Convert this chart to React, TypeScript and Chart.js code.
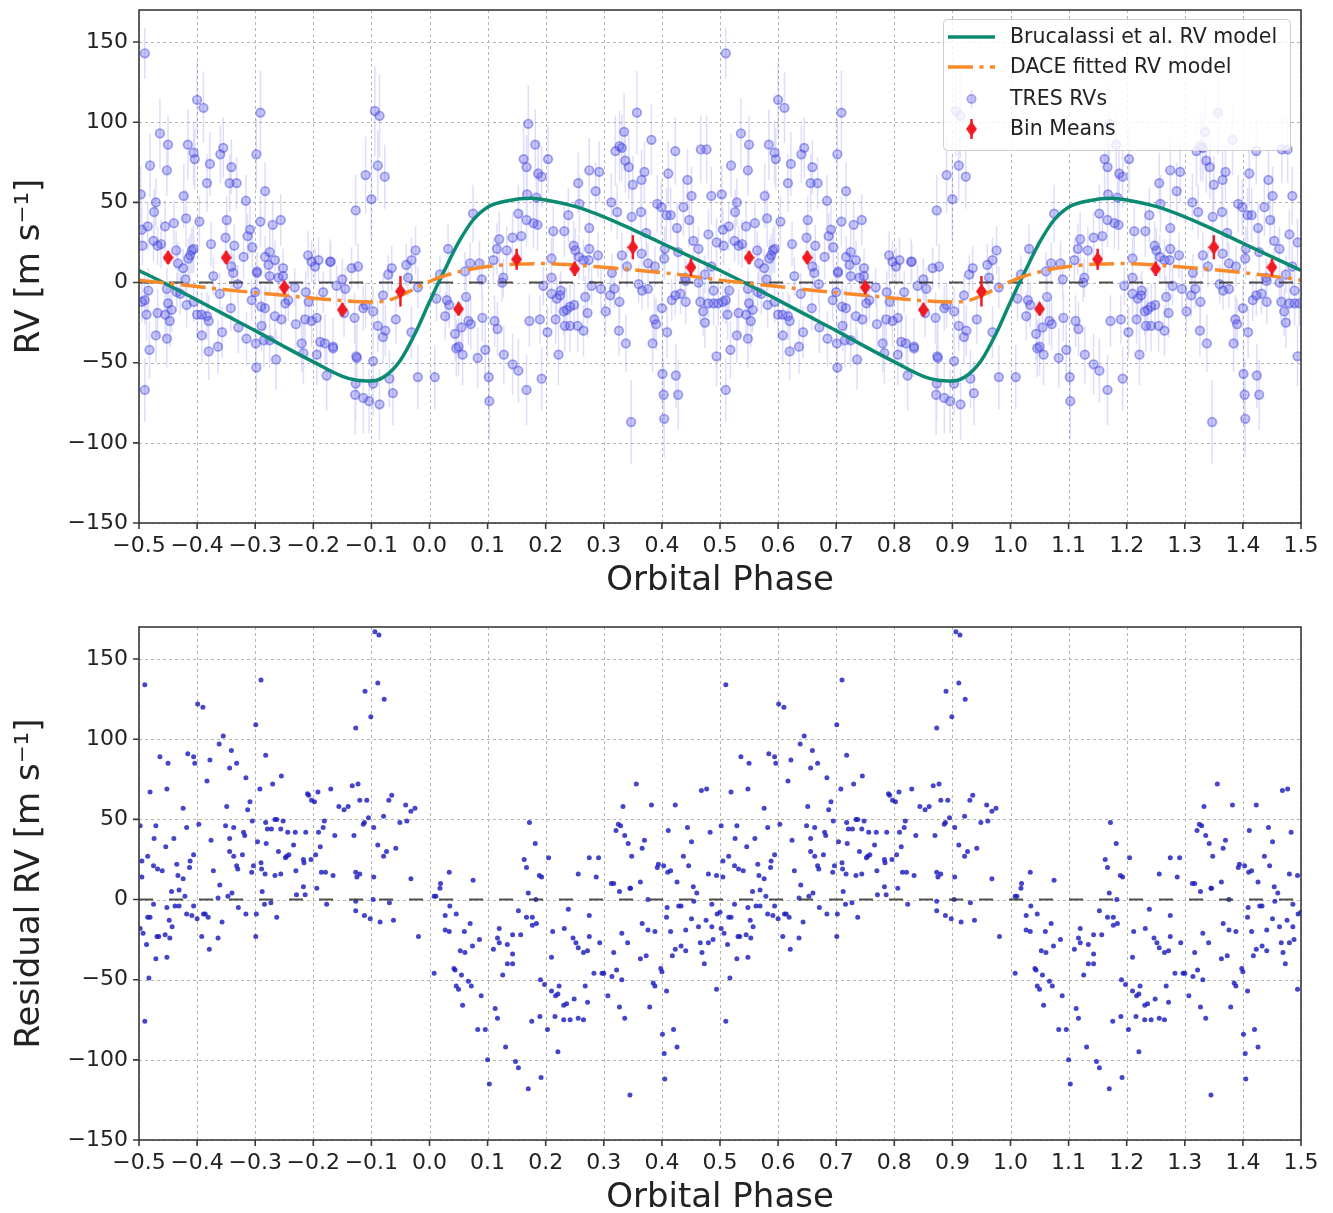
import React, { useEffect, useRef } from "react";
import { Chart, registerables } from "chart.js";

Chart.register(...registerables);

const FONT = '"DejaVu Sans", "Liberation Sans", sans-serif';
const TEXT = "#222222";

// Axis ticks
const phaseTicks = [-0.5, -0.4, -0.3, -0.2, -0.1, 0.0, 0.1, 0.2, 0.3, 0.4, 0.5, 0.6, 0.7, 0.8, 0.9, 1.0, 1.1, 1.2, 1.3, 1.4, 1.5];
const rvTicks = [-150, -100, -50, 0, 50, 100, 150];

// Brucalassi et al. Keplerian model over one orbital cycle
const brucalassiPhase = [-0.5, -0.45, -0.4, -0.35, -0.3, -0.25, -0.2, -0.15, -0.125, -0.1, -0.075, -0.05, -0.025, 0.0, 0.025, 0.05, 0.075, 0.1, 0.135, 0.175, 0.2, 0.25, 0.3, 0.35, 0.4, 0.45, 0.5];
const brucalassiRV = [7.5, -1.5, -11, -20.5, -30, -40, -49.5, -58.5, -61, -61.5, -58, -48.5, -32, -12, 7, 25, 39, 47, 51, 52.5, 51.5, 47.5, 41, 33, 24.5, 16, 7.5];

// DACE fitted model over one orbital cycle
const dacePhase = [-0.5, -0.45, -0.4, -0.35, -0.3, -0.25, -0.2, -0.15, -0.1, -0.07, -0.04, -0.01, 0.02, 0.06, 0.1, 0.15, 0.2, 0.25, 0.3, 0.35, 0.4, 0.45, 0.5];
const daceRV = [1.5, -0.5, -2.5, -4.5, -6.3, -8, -9.8, -11.3, -12.2, -11, -6.5, -1, 3.5, 7.5, 10, 11.5, 11.8, 11, 9.5, 8, 6.2, 4, 1.5];

// Binned means of the TRES velocities
const binPhase = [-0.45, -0.35, -0.25, -0.15, -0.05, 0.05, 0.15, 0.25, 0.35, 0.45];
const binMean = [15.5, 15.5, -3, -17, -5.5, -16.5, 14.5, 8.5, 22, 9.5];
const binErr = [4, 4, 4, 4, 9.5, 4, 6.5, 4.5, 7.5, 5.5];

// TRES radial velocities: [phase, RV, error]
const tresRVs: [number, number, number][] = [
  [-0.490, 143, 16], [-0.497, 55, 18], [-0.481, 73, 20], [-0.464, 93, 22], [-0.450, 86, 18], [-0.452, 70, 16],
  [-0.471, 50, 15], [-0.474, 44, 14], [-0.485, 35, 15], [-0.495, 33, 14], [-0.494, 23, 12], [-0.475, 26, 13],
  [-0.468, 23, 12], [-0.462, 24, 15], [-0.455, 35, 16], [-0.440, 37, 14], [-0.436, 20, 12], [-0.433, 12, 13],
  [-0.424, 9, 12], [-0.423, 54, 20], [-0.419, 40, 18], [-0.416, 86, 22], [-0.406, 81, 20], [-0.404, 77, 19],
  [-0.400, 114, 24], [-0.389, 109, 22], [-0.396, 38, 16], [-0.412, 17, 13], [-0.409, 20, 14], [-0.406, 21, 15],
  [-0.415, 15, 12], [-0.383, 62, 18], [-0.378, 74, 20], [-0.376, 24, 14], [-0.360, 80, 18], [-0.355, 84, 19],
  [-0.341, 72, 17], [-0.344, 62, 18], [-0.332, 62, 16], [-0.349, 39, 15], [-0.351, 28, 14], [-0.336, 23, 13],
  [-0.341, 10, 12], [-0.320, 16, 14], [-0.316, 51, 16], [-0.309, 33, 15], [-0.313, 29, 14], [-0.305, 22, 13],
  [-0.297, 7, 12], [-0.298, 80, 22], [-0.291, 106, 26], [-0.283, 57, 18], [-0.291, 38, 16], [-0.283, 16, 13],
  [-0.277, 11, 12], [-0.275, 19, 14], [-0.270, 36, 15], [-0.266, 14, 12], [-0.256, 39, 16], [-0.252, 9, 12],
  [-0.209, 17, 15], [-0.203, 13, 13], [-0.191, 14, 14], [-0.170, 13, 12], [-0.197, 10, 12],
  [-0.484, -5, 14], [-0.490, -11, 15], [-0.495, -12, 13], [-0.487, -20, 16], [-0.482, -42, 18], [-0.490, -67, 20],
  [-0.471, -33, 17], [-0.468, -19, 15], [-0.452, -4, 13], [-0.450, -13, 14], [-0.447, -24, 16], [-0.452, -35, 18],
  [-0.455, -20, 15], [-0.444, -17, 14], [-0.435, -6, 12], [-0.429, -7, 13], [-0.418, -14, 14], [-0.406, -12, 13],
  [-0.400, -20, 15], [-0.392, -20, 14], [-0.383, -21, 15], [-0.380, -24, 16], [-0.392, -33, 17], [-0.380, -43, 18],
  [-0.364, -40, 17], [-0.357, -31, 16], [-0.361, -7, 13], [-0.372, 4, 12], [-0.338, 6, 12], [-0.342, -16, 14],
  [-0.329, -28, 16], [-0.315, -35, 17], [-0.306, -11, 13], [-0.300, -6, 12], [-0.299, -38, 18], [-0.298, -53, 20],
  [-0.289, -27, 16], [-0.290, -15, 14], [-0.283, -16, 14], [-0.285, -36, 17], [-0.275, -36, 17], [-0.266, -21, 15],
  [-0.264, -48, 19], [-0.255, -23, 15], [-0.248, -13, 14], [-0.243, -11, 13], [-0.232, -3, 12], [-0.230, -26, 16],
  [-0.220, -38, 18], [-0.217, -44, 19], [-0.214, -23, 15], [-0.213, -6, 13], [-0.203, -24, 16], [-0.194, -45, 19],
  [-0.188, -37, 17], [-0.183, -6, 13], [-0.180, -38, 18], [-0.177, -58, 22], [-0.166, -41, 18], [-0.194, -22, 15],
  [-0.208, -12, 13], [-0.252, 4, 12], [-0.275, 4, 12], [-0.297, 6, 12],
  [-0.171, 13, 14], [-0.127, 45, 22], [-0.110, 67, 24], [-0.100, 52, 26], [-0.094, 107, 28], [-0.086, 104, 26],
  [-0.089, 73, 22], [-0.077, 66, 20], [-0.134, 9, 13], [-0.123, 10, 14], [-0.065, 9, 14], [-0.040, 11, 13],
  [-0.031, 14, 14], [-0.024, 20, 15], [-0.071, 5, 12], [0.032, 21, 15], [0.018, 5, 12], [0.070, 12, 13],
  [0.086, 12, 14], [0.075, 43, 18], [0.110, 14, 14], [0.116, 21, 16], [0.120, 27, 17], [0.133, 20, 15],
  [0.143, 28, 16], [0.153, 43, 18], [0.158, 29, 16], [0.162, 77, 22], [0.167, 72, 20], [0.168, 55, 18],
  [0.167, 39, 17], [0.170, 99, 24], [0.127, 3, 12],
  [-0.166, -40, 18], [-0.147, -19, 15], [-0.160, -2, 13], [-0.145, -4, 13], [-0.129, -22, 16], [-0.126, -46, 20],
  [-0.125, -47, 22], [-0.127, -63, 24], [-0.128, -70, 25], [-0.114, -72, 22], [-0.104, -74, 20], [-0.086, -76, 22],
  [-0.097, -63, 20], [-0.097, -49, 18], [-0.069, -60, 18], [-0.063, -69, 20], [-0.114, -16, 14], [-0.110, -14, 14],
  [-0.097, -18, 15], [-0.089, -27, 16], [-0.080, -34, 17], [-0.076, -30, 16], [-0.080, -8, 13], [-0.058, -23, 15],
  [-0.031, -31, 16], [-0.037, 3, 12], [-0.020, -59, 20], [0.009, -59, 20], [0.012, -10, 14], [0.027, -21, 15],
  [0.030, -11, 14], [0.034, -14, 14], [0.044, -32, 17], [0.046, -41, 18], [0.050, -40, 18], [0.057, -45, 19],
  [0.055, -28, 16], [0.067, -24, 15], [0.071, -26, 16], [0.063, -9, 13], [0.083, -47, 19], [0.091, -22, 15],
  [0.096, -42, 18], [0.102, -59, 21], [0.103, -74, 24], [0.112, -24, 16], [0.117, -29, 17], [0.128, -45, 18],
  [0.143, -51, 19], [0.153, -55, 20], [0.167, -67, 22], [0.172, -24, 16], [0.125, 0, 12], [0.061, 7, 12],
  [0.182, 86, 22], [0.187, 68, 20], [0.193, 66, 19], [0.204, 77, 21], [0.184, 53, 18], [0.179, 37, 16],
  [0.186, 36, 16], [0.213, 32, 16], [0.232, 32, 16], [0.239, 42, 17], [0.256, 62, 19], [0.258, 49, 18],
  [0.275, 70, 20], [0.292, 69, 19], [0.286, 57, 18], [0.275, 34, 16], [0.248, 23, 15], [0.251, 20, 14],
  [0.257, 16, 14], [0.265, 14, 13], [0.274, 14, 13], [0.275, 21, 14], [0.290, 17, 14], [0.210, 15, 13],
  [0.313, 50, 18], [0.323, 44, 17], [0.320, 82, 22], [0.327, 85, 22], [0.331, 84, 21], [0.335, 94, 24],
  [0.337, 76, 20], [0.343, 72, 20], [0.350, 61, 18], [0.357, 106, 26], [0.365, 64, 19], [0.370, 69, 19],
  [0.348, 41, 17], [0.364, 44, 17], [0.382, 89, 22], [0.373, 31, 15], [0.331, 17, 14], [0.340, 10, 13],
  [0.365, 18, 14], [0.376, 12, 13], [0.388, 10, 13], [0.392, 49, 18], [0.399, 47, 17], [0.408, 42, 17],
  [0.415, 42, 17], [0.411, 68, 20], [0.423, 82, 21], [0.426, 34, 16], [0.437, 47, 18], [0.444, 64, 19],
  [0.447, 39, 17], [0.451, 54, 18], [0.454, 26, 15], [0.463, 21, 14], [0.405, 21, 14], [0.404, 15, 13],
  [0.428, 19, 14], [0.467, 83, 21], [0.477, 83, 21], [0.480, 30, 16], [0.485, 54, 18], [0.494, 25, 15],
  [0.485, 10, 13], [0.474, 5, 12],
  [0.193, -60, 20], [0.190, -23, 15], [0.203, -31, 16], [0.196, -2, 12], [0.210, -7, 13], [0.219, -10, 13],
  [0.225, -8, 13], [0.226, -5, 12], [0.217, -23, 15], [0.222, -45, 19], [0.231, -18, 15], [0.236, -17, 14],
  [0.242, -15, 14], [0.249, -14, 14], [0.233, -27, 16], [0.242, -27, 16], [0.255, -27, 16], [0.265, -30, 16],
  [0.268, -9, 13], [0.272, -19, 15], [0.279, -2, 12], [0.295, -4, 12], [0.303, -18, 15], [0.311, -8, 13],
  [0.318, -4, 12], [0.327, -12, 14], [0.314, 6, 12], [0.326, -30, 16], [0.338, -38, 18], [0.347, -87, 26],
  [0.366, -5, 12], [0.376, -4, 12], [0.384, -38, 18], [0.387, -23, 15], [0.390, -26, 16], [0.400, -16, 14],
  [0.401, -57, 21], [0.403, -70, 22], [0.404, -85, 24], [0.409, -31, 16], [0.424, -58, 20], [0.428, -70, 22],
  [0.417, -11, 13], [0.423, -8, 13], [0.432, -7, 13], [0.441, -12, 14], [0.441, 1, 12], [0.466, -12, 14],
  [0.471, -18, 15], [0.474, -25, 16], [0.480, -13, 14], [0.489, -13, 14], [0.494, -46, 19], [0.497, -13, 14],
  [0.489, -5, 12], [0.463, 0, 12],
  [-0.420, 2, 12], [-0.330, -1, 12], [-0.260, 3, 12], [-0.150, 2, 13], [-0.020, -3, 13], [0.090, 2, 12],
  [0.210, 3, 12], [0.360, -1, 12], [0.440, 3, 12],
];

// Residuals after subtracting the Brucalassi et al. model: [phase, residual]
const residualRVs: [number, number][] = [
  [-0.490, 134], [-0.498, 46], [-0.481, 67], [-0.464, 89], [-0.450, 85], [-0.452, 69], [-0.471, 46], [-0.474, 38],
  [-0.454, 33], [-0.440, 38], [-0.485, 27], [-0.495, 24], [-0.475, 21], [-0.468, 19], [-0.460, 18], [-0.495, 14],
  [-0.435, 22], [-0.433, 15], [-0.424, 13], [-0.424, 57], [-0.418, 45], [-0.416, 91], [-0.406, 89], [-0.404, 85],
  [-0.399, 122], [-0.390, 120], [-0.397, 47], [-0.412, 24], [-0.413, 20], [-0.406, 28], [-0.383, 74], [-0.378, 87],
  [-0.376, 37], [-0.372, 18], [-0.362, 97], [-0.355, 102], [-0.341, 93], [-0.344, 82], [-0.332, 85], [-0.349, 58],
  [-0.351, 46], [-0.344, 38], [-0.344, 30], [-0.337, 27], [-0.337, 45], [-0.332, 21], [-0.330, 19], [-0.322, 28],
  [-0.320, 42], [-0.318, 40], [-0.316, 76], [-0.309, 61], [-0.313, 56], [-0.305, 49], [-0.303, 21], [-0.306, 17],
  [-0.299, 109], [-0.290, 137], [-0.292, 69], [-0.282, 90], [-0.270, 72], [-0.255, 77], [-0.296, 36], [-0.282, 48],
  [-0.279, 44], [-0.272, 44], [-0.266, 50], [-0.263, 50], [-0.252, 49], [-0.281, 35], [-0.290, 23], [-0.289, 19],
  [-0.283, 16], [-0.266, 15], [-0.256, 16], [-0.256, 44], [-0.260, 30], [-0.246, 27], [-0.248, 26], [-0.242, 28],
  [-0.244, 42], [-0.234, 34], [-0.231, 42], [-0.230, 18], [-0.217, 25], [-0.213, 42], [-0.210, 66], [-0.208, 65],
  [-0.203, 62], [-0.198, 61], [-0.192, 67], [-0.216, 23], [-0.204, 25], [-0.196, 28], [-0.188, 33], [-0.183, 45],
  [-0.181, 49], [-0.191, 42], [-0.186, 17], [-0.179, 17], [-0.170, 69], [-0.166, 15], [-0.163, 40], [-0.156, 58],
  [-0.147, 56], [-0.140, 58], [-0.133, 71], [-0.123, 72], [-0.120, 62], [-0.130, 40], [-0.127, 17], [-0.125, 14],
  [-0.120, 16], [-0.127, 107], [-0.114, 47], [-0.112, 48], [-0.105, 51], [-0.108, 62], [-0.111, 130], [-0.101, 114],
  [-0.094, 167], [-0.087, 165], [-0.089, 135], [-0.078, 125], [-0.096, 45], [-0.089, 34], [-0.079, 52], [-0.079, 27],
  [-0.074, 30], [-0.070, 62], [-0.065, 65], [-0.058, 32], [-0.051, 48], [-0.039, 49], [-0.041, 59], [-0.032, 55],
  [-0.025, 57], [-0.032, 13], [-0.096, 14],
  [-0.498, -18], [-0.493, -21], [-0.487, -28], [-0.490, -76], [-0.483, -49], [-0.485, -11], [-0.481, -11], [-0.475, -3],
  [-0.471, -37], [-0.469, -23], [-0.466, -23], [-0.452, -36], [-0.455, -22], [-0.447, -24], [-0.443, -17], [-0.448, -13],
  [-0.452, -5], [-0.444, 5], [-0.438, -4], [-0.431, -4], [-0.431, 6], [-0.421, 2], [-0.418, -9], [-0.409, -10],
  [-0.406, -4], [-0.400, -12], [-0.392, -23], [-0.389, -9], [-0.386, -9], [-0.381, -11], [-0.379, -31], [-0.364, -24],
  [-0.357, -14], [-0.364, 1], [-0.361, 9], [-0.347, 2], [-0.340, 4], [-0.329, -5], [-0.316, -9], [-0.298, -9],
  [-0.299, -23], [-0.288, 5], [-0.284, -3], [-0.273, -2], [-0.263, -11], [-0.229, 3], [-0.217, 8], [-0.214, 3],
  [-0.194, 7], [-0.177, -3], [-0.127, -1], [-0.127, -7], [-0.112, -10], [-0.102, -12], [-0.097, 0], [-0.085, -14],
  [-0.069, -2], [-0.062, -13], [-0.019, -23], [0.008, -46], [0.008, 2],
  [0.172, 48], [0.182, 35], [0.163, 25], [0.167, 20], [0.189, 15], [0.193, 14], [0.205, 26], [0.034, 17],
  [0.019, 10], [0.075, 12], [0.256, 16], [0.275, 26], [0.291, 26], [0.287, 14], [0.313, 10], [0.333, 58],
  [0.321, 43], [0.325, 47], [0.329, 46], [0.336, 40], [0.342, 35], [0.348, 27], [0.356, 72], [0.366, 32],
  [0.370, 37], [0.382, 59], [0.363, 11], [0.346, 7], [0.394, 22], [0.392, 20], [0.403, 21], [0.410, 17],
  [0.415, 18], [0.411, 43], [0.423, 59], [0.426, 11], [0.437, 27], [0.444, 45], [0.451, 36], [0.446, 21],
  [0.454, 8], [0.468, 68], [0.477, 69], [0.483, 42], [0.480, 16], [0.494, 15],
  [0.011, 2], [0.018, 7], [0.035, -4], [0.027, -10], [0.046, -9], [0.027, -19], [0.034, -20], [0.053, -32],
  [0.061, -33], [0.060, -20], [0.070, -15], [0.074, -29], [0.086, -25], [0.042, -43], [0.044, -44], [0.055, -47],
  [0.046, -54], [0.050, -56], [0.067, -51], [0.072, -54], [0.057, -66], [0.089, -60], [0.083, -81], [0.096, -81],
  [0.100, -100], [0.103, -115], [0.110, -31], [0.113, -68], [0.117, -74], [0.117, -24], [0.120, -18], [0.120, -27],
  [0.126, -47], [0.134, -40], [0.134, -28], [0.143, -34], [0.143, -40], [0.143, -22], [0.153, -7], [0.157, -22],
  [0.131, -92], [0.148, -101], [0.153, -105], [0.170, -118], [0.170, 4], [0.167, -11], [0.177, -11], [0.177, -16],
  [0.184, -15], [0.183, 0], [0.176, -76], [0.190, -73], [0.192, -111], [0.191, -50], [0.198, -53], [0.203, -81],
  [0.210, -57], [0.210, -36], [0.212, -20], [0.217, -60], [0.221, -59], [0.223, -54], [0.216, -73], [0.221, -95],
  [0.231, -66], [0.236, -65], [0.231, -75], [0.242, -75], [0.249, -62], [0.256, -74], [0.265, -75], [0.232, -18],
  [0.239, -6], [0.247, -24], [0.252, -27], [0.256, -30], [0.265, -33], [0.272, -32], [0.268, -54], [0.275, -23],
  [0.275, -10], [0.272, -64], [0.283, -46], [0.293, -27], [0.297, -46], [0.300, -46], [0.307, -60], [0.314, -48],
  [0.317, -33], [0.322, -44], [0.327, -67], [0.331, -50], [0.331, -21], [0.341, -27], [0.336, -74], [0.345, -122],
  [0.327, 5], [0.317, 10], [0.345, 7], [0.366, -15], [0.363, -37], [0.373, -35], [0.376, -19], [0.376, 0],
  [0.385, -52], [0.388, -54], [0.379, -67], [0.388, -20], [0.400, -45], [0.398, -43], [0.401, -84], [0.404, -96],
  [0.405, -112], [0.408, -57], [0.408, -11], [0.409, -5], [0.415, -20], [0.418, -35], [0.423, -31], [0.420, -81],
  [0.426, -92], [0.429, -4], [0.433, -4], [0.433, -29], [0.441, -19], [0.441, -32], [0.451, -12], [0.455, -1],
  [0.460, 4], [0.463, -17], [0.466, -27], [0.469, -33], [0.473, -40], [0.476, -13], [0.480, -27], [0.486, -3],
  [0.486, -17], [0.488, -25], [0.494, -56], [0.495, -9], [0.500, -8],
];

const C_TEAL = "#0b8a72";
const C_ORANGE = "#f98a2a";
const C_RED = "#f01a22";
const DACE_DASH = [25, 6.5, 4, 6.5];

function fmt(v: number, digits: number): string {
  const s = digits > 0 ? Number(v).toFixed(digits) : String(Math.round(Number(v)));
  return s.replace("-", "\u2212");
}

// One folded cycle drawn twice: phase and phase + 1
function twoCycles(ph: number[], vals: number[]) {
  const first = ph.map((p, i) => ({ x: p, y: vals[i] }));
  const second = ph.slice(1).map((p, i) => ({ x: p + 1, y: vals[i + 1] }));
  return [...first, ...second];
}

function thinDiamond(w: number, h: number, color: string) {
  const c = document.createElement("canvas");
  c.width = w;
  c.height = h;
  const g = c.getContext("2d")!;
  g.fillStyle = color;
  g.beginPath();
  g.moveTo(w / 2, 0);
  g.lineTo(w, h / 2);
  g.lineTo(w / 2, h);
  g.lineTo(0, h / 2);
  g.closePath();
  g.fill();
  return c;
}

const panelPlugin = {
  id: "panel",
  beforeDatasetsDraw(chart: any) {
    const { ctx, chartArea: a, scales } = chart;
    ctx.save();
    ctx.strokeStyle = "#b5b5b5";
    ctx.lineWidth = 1;
    ctx.setLineDash([3, 3]);
    ctx.beginPath();
    for (const t of phaseTicks) {
      const px = Math.round(scales.x.getPixelForValue(t)) + 0.5;
      ctx.moveTo(px, a.top);
      ctx.lineTo(px, a.bottom);
    }
    for (const t of rvTicks) {
      const py = Math.round(scales.y.getPixelForValue(t)) + 0.5;
      ctx.moveTo(a.left, py);
      ctx.lineTo(a.right, py);
    }
    ctx.stroke();
    ctx.restore();
  },
  beforeDatasetDraw(chart: any, args: any) {
    const ds = chart.data.datasets[args.index];
    if (!ds.errorBarColor) return;
    const { ctx, chartArea: a, scales } = chart;
    ctx.save();
    ctx.beginPath();
    ctx.rect(a.left, a.top, a.right - a.left, a.bottom - a.top);
    ctx.clip();
    ctx.strokeStyle = ds.errorBarColor;
    ctx.lineWidth = ds.errorBarWidth;
    ctx.beginPath();
    args.meta.data.forEach((el: any, i: number) => {
      const d = ds.data[i];
      ctx.moveTo(el.x, scales.y.getPixelForValue(d.y - d.err));
      ctx.lineTo(el.x, scales.y.getPixelForValue(d.y + d.err));
    });
    ctx.stroke();
    ctx.restore();
  },
  afterDatasetDraw(chart: any, args: any) {
    const ds = chart.data.datasets[args.index];
    if (!ds.zeroLineAfter) return;
    const { ctx, chartArea: a, scales } = chart;
    const py = scales.y.getPixelForValue(0);
    ctx.save();
    ctx.strokeStyle = "rgba(60,60,60,0.9)";
    ctx.lineWidth = 2;
    ctx.setLineDash([14, 16]);
    ctx.beginPath();
    ctx.moveTo(a.left, py);
    ctx.lineTo(a.right, py);
    ctx.stroke();
    ctx.restore();
  },
  afterDraw(chart: any, _args: any, opts: any) {
    const { ctx, chartArea: a, scales } = chart;
    ctx.save();
    ctx.strokeStyle = "#3a3a3a";
    ctx.lineWidth = 1.6;
    ctx.setLineDash([]);
    ctx.strokeRect(a.left, a.top, a.right - a.left, a.bottom - a.top);
    ctx.beginPath();
    for (const t of phaseTicks) {
      const px = scales.x.getPixelForValue(t);
      ctx.moveTo(px, a.bottom);
      ctx.lineTo(px, a.bottom + 6);
    }
    for (const t of rvTicks) {
      const py = scales.y.getPixelForValue(t);
      ctx.moveTo(a.left - 6, py);
      ctx.lineTo(a.left, py);
    }
    ctx.stroke();
    ctx.restore();

    if (opts && opts.legend) {
      const lx = 943.5, ly = 19.5, lw = 347, lh = 131;
      ctx.save();
      ctx.fillStyle = "rgba(255,255,255,0.82)";
      ctx.strokeStyle = "#cccccc";
      ctx.lineWidth = 1;
      ctx.beginPath();
      ctx.roundRect(lx, ly, lw, lh, 4);
      ctx.fill();
      ctx.stroke();

      const x0 = 948, x1 = 995, mx = 971.5, tx = 1010;
      const rows = [37, 67, 99, 129];
      ctx.lineCap = "butt";
      // model lines
      ctx.strokeStyle = C_TEAL;
      ctx.lineWidth = 3.5;
      ctx.beginPath();
      ctx.moveTo(x0, rows[0]);
      ctx.lineTo(x1, rows[0]);
      ctx.stroke();
      ctx.strokeStyle = C_ORANGE;
      ctx.setLineDash(DACE_DASH);
      ctx.beginPath();
      ctx.moveTo(x0, rows[1]);
      ctx.lineTo(x1, rows[1]);
      ctx.stroke();
      ctx.setLineDash([]);
      // TRES marker
      ctx.strokeStyle = "rgba(90,90,230,0.2)";
      ctx.lineWidth = 1.5;
      ctx.beginPath();
      ctx.moveTo(mx, rows[2] - 9);
      ctx.lineTo(mx, rows[2] + 9);
      ctx.stroke();
      ctx.fillStyle = "rgba(70,70,225,0.3)";
      ctx.strokeStyle = "rgba(70,70,225,0.45)";
      ctx.lineWidth = 1.6;
      ctx.beginPath();
      ctx.arc(mx, rows[2], 4.2, 0, Math.PI * 2);
      ctx.fill();
      ctx.stroke();
      // bin mean marker
      ctx.strokeStyle = C_RED;
      ctx.lineWidth = 2.5;
      ctx.beginPath();
      ctx.moveTo(mx, rows[3] - 10);
      ctx.lineTo(mx, rows[3] + 10);
      ctx.stroke();
      const dm = opts.diamond;
      if (dm) ctx.drawImage(dm, mx - dm.width / 2, rows[3] - dm.height / 2);

      ctx.fillStyle = TEXT;
      ctx.font = `20.5px ${FONT}`;
      ctx.textBaseline = "middle";
      ctx.textAlign = "left";
      const labels = ["Brucalassi et al. RV model", "DACE fitted RV model", "TRES RVs", "Bin Means"];
      labels.forEach((s, i) => ctx.fillText(s, tx, rows[i] + 1));
      ctx.restore();
    }
  },
};

function axes(yTitle: string, xAxisHeight: number, xTitleBottom: number) {
  return {
    x: {
      type: "linear",
      min: -0.5,
      max: 1.5,
      grid: { display: false, drawTicks: false },
      border: { display: false },
      afterBuildTicks: (s: any) => {
        s.ticks = phaseTicks.map((value) => ({ value }));
      },
      afterFit: (s: any) => {
        s.height = xAxisHeight;
        s.paddingLeft = 0;
        s.paddingRight = 0;
      },
      ticks: {
        autoSkip: false,
        maxRotation: 0,
        minRotation: 0,
        padding: 10,
        color: TEXT,
        font: { family: FONT, size: 22 },
        callback: (v: number) => fmt(v, 1),
      },
      title: {
        display: true,
        text: "Orbital Phase",
        color: TEXT,
        font: { family: FONT, size: 34, lineHeight: 0.8 },
        padding: { top: 0, bottom: xTitleBottom },
      },
    },
    y: {
      type: "linear",
      min: -150,
      max: 170,
      grid: { display: false, drawTicks: false },
      border: { display: false },
      afterBuildTicks: (s: any) => {
        s.ticks = rvTicks.map((value) => ({ value }));
      },
      afterFit: (s: any) => {
        s.width = 139;
        s.paddingTop = 0;
        s.paddingBottom = 0;
      },
      ticks: {
        padding: 11,
        color: TEXT,
        font: { family: FONT, size: 22 },
        callback: (v: number) => fmt(v, 0),
      },
      title: {
        display: true,
        text: yTitle,
        color: TEXT,
        font: { family: FONT, size: 34, lineHeight: 0.8 },
        padding: { top: 17, bottom: 0 },
      },
    },
  };
}

function rvConfig(): any {
  const diamond = thinDiamond(11, 15, C_RED);
  const tres = [
    ...tresRVs.map(([p, v, e]) => ({ x: p, y: v, err: e })),
    ...tresRVs.map(([p, v, e]) => ({ x: p + 1, y: v, err: e })),
  ];
  const bins = [
    ...binPhase.map((p, i) => ({ x: p, y: binMean[i], err: binErr[i] })),
    ...binPhase.map((p, i) => ({ x: p + 1, y: binMean[i], err: binErr[i] })),
  ];
  return {
    type: "scatter",
    data: {
      datasets: [
        {
          type: "scatter",
          label: "Bin Means",
          data: bins,
          order: 0,
          pointStyle: diamond,
          pointRadius: 6,
          errorBarColor: C_RED,
          errorBarWidth: 2.5,
        },
        {
          type: "line",
          label: "DACE fitted RV model",
          data: twoCycles(dacePhase, daceRV),
          order: 1,
          borderColor: C_ORANGE,
          borderWidth: 3.5,
          borderDash: DACE_DASH,
          pointRadius: 0,
          fill: false,
          cubicInterpolationMode: "monotone",
        },
        {
          type: "line",
          label: "Brucalassi et al. RV model",
          data: twoCycles(brucalassiPhase, brucalassiRV),
          order: 2,
          borderColor: C_TEAL,
          borderWidth: 3.5,
          pointRadius: 0,
          fill: false,
          cubicInterpolationMode: "monotone",
        },
        {
          type: "scatter",
          label: "TRES RVs",
          data: tres,
          order: 3,
          pointRadius: 4.3,
          backgroundColor: "rgba(70,70,225,0.3)",
          borderColor: "rgba(70,70,225,0.48)",
          borderWidth: 1.7,
          errorBarColor: "rgba(90,90,230,0.2)",
          errorBarWidth: 1.5,
          zeroLineAfter: true,
        },
      ],
    },
    options: {
      animation: false,
      responsive: false,
      devicePixelRatio: 1,
      events: [],
      layout: { padding: { top: 10, right: 32, bottom: 0, left: 0 } },
      plugins: {
        legend: { display: false },
        tooltip: { enabled: false },
        panel: { legend: true, diamond },
      },
      scales: axes("RV [m s\u207B\u00B9]", 83, 11.4),
    },
    plugins: [panelPlugin],
  };
}

function residualConfig(): any {
  const pts = [
    ...residualRVs.map(([p, v]) => ({ x: p, y: v })),
    ...residualRVs.map(([p, v]) => ({ x: p + 1, y: v })),
  ];
  return {
    type: "scatter",
    data: {
      datasets: [
        {
          type: "scatter",
          label: "Residuals",
          data: pts,
          pointRadius: 2.5,
          backgroundColor: "rgba(28,28,190,0.82)",
          borderWidth: 0,
          zeroLineAfter: true,
        },
      ],
    },
    options: {
      animation: false,
      responsive: false,
      devicePixelRatio: 1,
      events: [],
      layout: { padding: { top: 21, right: 32, bottom: 0, left: 0 } },
      plugins: {
        legend: { display: false },
        tooltip: { enabled: false },
        panel: { legend: false },
      },
      scales: axes("Residual RV [m s\u207B\u00B9]", 73, 1.4),
    },
    plugins: [panelPlugin],
  };
}

function Panel({ build, top, height }: { build: () => any; top: number; height: number }) {
  const ref = useRef<HTMLCanvasElement>(null);
  useEffect(() => {
    const chart = new Chart(ref.current as HTMLCanvasElement, build());
    return () => chart.destroy();
  }, []);
  return (
    <canvas
      ref={ref}
      width={1333}
      height={height}
      style={{ position: "absolute", left: 0, top, width: 1333, height, display: "block" }}
    />
  );
}

export default function App() {
  return (
    <div
      style={{
        position: "absolute",
        left: 0,
        top: 0,
        width: 1333,
        height: 1213,
        overflow: "hidden",
        background: "#ffffff",
      }}
    >
      <Panel build={rvConfig} top={0} height={606} />
      <Panel build={residualConfig} top={606} height={607} />
    </div>
  );
}
